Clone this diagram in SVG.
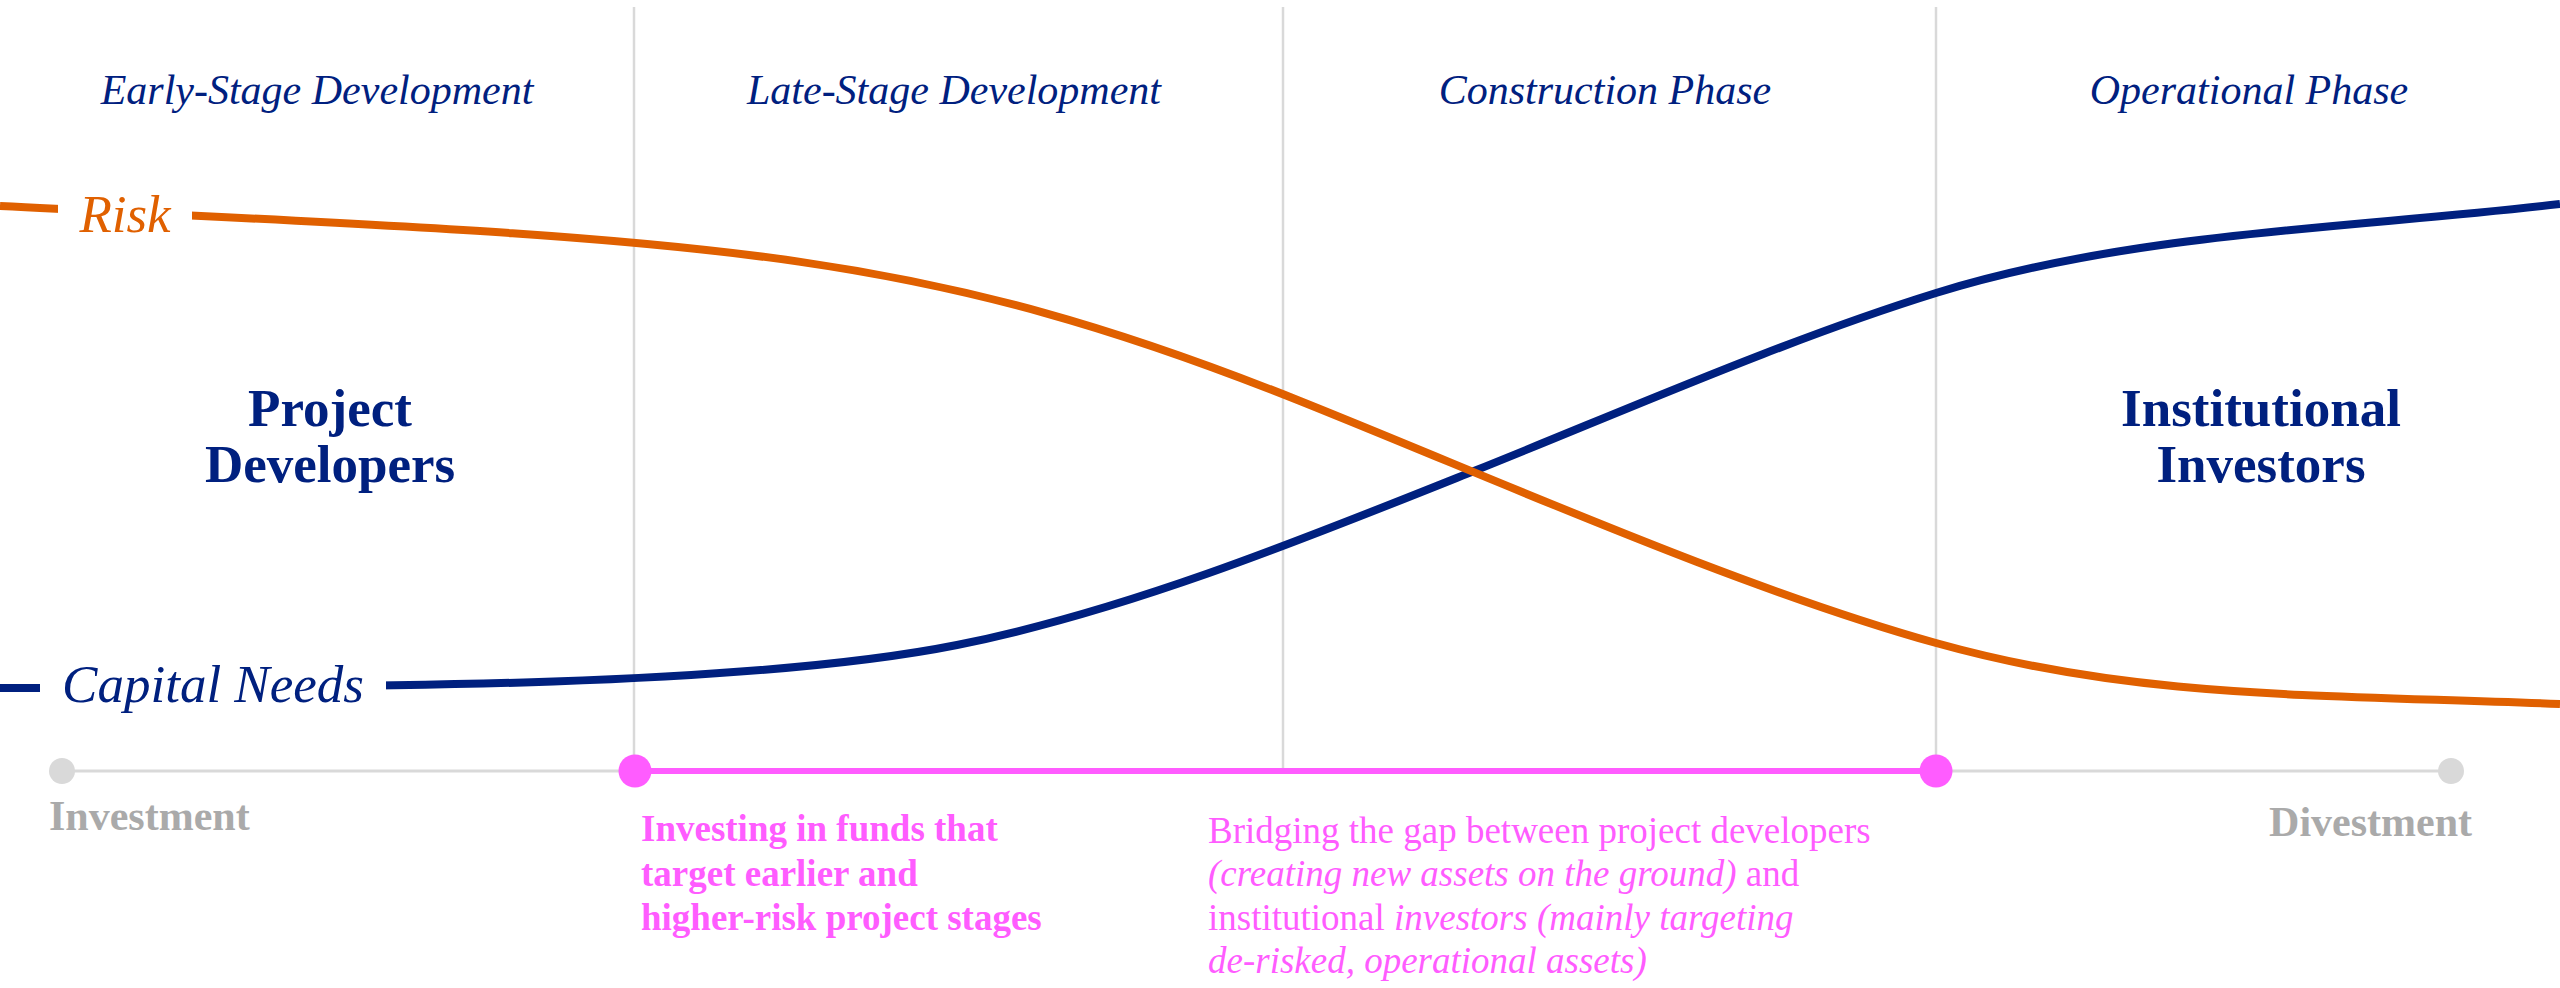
<svg xmlns="http://www.w3.org/2000/svg" width="2560" height="988" viewBox="0 0 2560 988">
<style>
.grid{stroke:#d9d9d9;stroke-width:2.5;fill:none}
.curve{fill:none;stroke-width:8;stroke-linecap:butt}
.phase{font-family:"Liberation Serif","Times New Roman",serif;font-style:italic;font-size:42px;fill:#00207f;text-anchor:middle}
.actor{font-family:"Liberation Serif","Times New Roman",serif;font-weight:bold;font-size:53px;fill:#00207f;text-anchor:middle}
.clabel{font-family:"Liberation Serif","Times New Roman",serif;font-style:italic;font-size:53px;text-anchor:middle}
.end{font-family:"Liberation Serif","Times New Roman",serif;font-weight:bold;font-size:42px;fill:#aaaaaa}
.pinkb{font-family:"Liberation Serif","Times New Roman",serif;font-weight:bold;font-size:37px;fill:#ff5cff}
.pink{font-family:"Liberation Serif","Times New Roman",serif;font-size:37px;fill:#ff5cff}
.it{font-style:italic}
</style>
<rect x="0" y="0" width="2560" height="988" fill="#ffffff"/>
<g id="gridlines">
<line class="grid" x1="634" y1="7" x2="634" y2="771"/>
<line class="grid" x1="1283" y1="7" x2="1283" y2="771"/>
<line class="grid" x1="1936" y1="7" x2="1936" y2="771"/>
</g>
<g id="phases">
<text class="phase" x="317" y="104">Early-Stage Development</text>
<text class="phase" x="954" y="104">Late-Stage Development</text>
<text class="phase" x="1605" y="104">Construction Phase</text>
<text class="phase" x="2249" y="104">Operational Phase</text>
</g>
<g id="connectors">
<path id="capital-curve" class="curve" stroke="#00207f" d="M0,688 C400,688 757,685 957,645 C1127,611 1304,539 1474,471 C1624,411 1786,339.5 1936,293 C2136,231 2360,228 2560,204"/>
<path id="risk-curve" class="curve" stroke="#e06000" d="M0,206 C700,241 900,241 1300,401 C1500,481 1736,587 1936,643 C2136,699 2310,694 2560,704"/>
</g>
<g id="risk-label">
<rect x="58" y="186" width="134" height="50" fill="#ffffff"/>
<text class="clabel" x="125" y="232" fill="#e06000">Risk</text>
</g>
<g id="capital-label">
<rect x="40" y="660" width="346" height="56" fill="#ffffff"/>
<text class="clabel" x="213" y="702" fill="#00207f">Capital Needs</text>
</g>
<g id="project-developers">
<text class="actor" x="330" y="426">Project</text>
<text class="actor" x="330" y="482">Developers</text>
</g>
<g id="institutional-investors">
<text class="actor" x="2261" y="426">Institutional</text>
<text class="actor" x="2261" y="482">Investors</text>
</g>
<g id="timeline">
<line x1="62" y1="771" x2="2451" y2="771" stroke="#d9d9d9" stroke-width="3"/>
<line x1="635" y1="771" x2="1936" y2="771" stroke="#ff5cff" stroke-width="6"/>
<circle cx="62" cy="771" r="13" fill="#d9d9d9"/>
<circle cx="2451" cy="771" r="13" fill="#d9d9d9"/>
<circle cx="635" cy="771" r="16.5" fill="#ff5cff"/>
<circle cx="1936" cy="771" r="16.5" fill="#ff5cff"/>
</g>
<g id="investment">
<text class="end" x="49" y="830">Investment</text>
</g>
<g id="divestment">
<text class="end" x="2472" y="836" text-anchor="end">Divestment</text>
</g>
<g id="funds-note">
<text class="pinkb" x="641" y="841">Investing in funds that</text>
<text class="pinkb" x="641" y="886">target earlier and</text>
<text class="pinkb" x="641" y="930">higher-risk project stages</text>
</g>
<g id="bridging-note">
<text class="pink" x="1208" y="843">Bridging the gap between project developers</text>
<text class="pink" x="1208" y="886"><tspan class="it">(creating new assets on the ground)</tspan> and</text>
<text class="pink" x="1208" y="929.5">institutional <tspan class="it">investors (mainly targeting</tspan></text>
<text class="pink" x="1208" y="973"><tspan class="it">de-risked, operational assets)</tspan></text>
</g>
</svg>
